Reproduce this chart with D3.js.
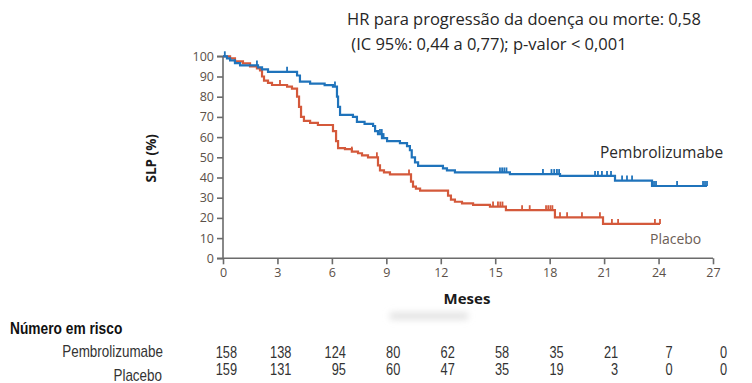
<!DOCTYPE html>
<html>
<head>
<meta charset="utf-8">
<script src="https://cdn.jsdelivr.net/npm/d3@7"></script>
<style>
  html, body { margin: 0; padding: 0; background: #fff; }
  svg { display: block; }
</style>
</head>
<body>
<svg id="chart" width="752" height="383"></svg>
<script>
// Kaplan–Meier estimates of progression-free survival (SLP, %) by month
const monthTicks = [0, 3, 6, 9, 12, 15, 18, 21, 24, 27];
const survivalTicks = [0, 10, 20, 30, 40, 50, 60, 70, 80, 90, 100];

// Pembrolizumabe: step times (months) and survival after each step
const pembroTimes = [0, 0.22, 0.39, 0.66, 0.94, 1.93, 2.15, 2.48, 4.08, 4.24, 4.8, 5.6, 6.06, 6.28, 6.34, 6.45,
  7.16, 7.38, 7.8, 8.27, 8.38, 8.54, 8.76, 9.04, 9.75, 10.14, 10.3, 10.4, 10.58, 10.75, 12.12, 12.34, 12.78,
  15.81, 18.57, 21.6, 23.64];
const pembroSurv = [100, 99, 98, 96.6, 95.5, 94.5, 93.5, 92.3, 90.5, 87.5, 86.5, 85.7, 85, 80, 75, 71,
  70, 67.5, 66.5, 65.5, 63, 61.5, 59.5, 58, 57, 55.5, 53.5, 50, 47.5, 45.8, 44.5, 43.5, 42.5,
  41.7, 40.8, 38.5, 35.8];
const pembroEnd = 26.67;
const pembroCensor = [0.1, 1.87, 3.53, 6.17, 8.65, 8.75, 8.85, 15.26, 15.38, 15.5, 15.62, 17.63, 18.1, 18.25, 18.4, 18.52,
  20.5, 20.66, 20.88, 21.16, 21.38, 21.99, 22.26, 22.54, 23.64, 23.75, 23.86, 25.02, 26.45, 26.56, 26.67];

// Placebo
const placeboTimes = [0, 0.39, 0.66, 1.1, 1.49, 1.87, 2.04, 2.15, 2.26, 2.48, 2.7, 3.53, 3.8, 4.08, 4.19, 4.3,
  4.46, 4.8, 5.23, 6.06, 6.23, 6.34, 6.72, 7.1, 7.44, 7.66, 7.99, 8.54, 8.65, 8.87, 9.2, 10.36, 10.47, 10.63,
  10.86, 12.4, 12.56, 12.78, 13.17, 13.78, 14.71, 15.59, 18.29, 20.94];
const placeboSurv = [100, 99, 97.5, 96.5, 95, 94, 93, 90, 88, 86.8, 85.8, 85, 84, 80, 75, 70,
  68, 67, 66, 63, 58, 54.5, 54, 52.8, 52, 51, 50, 46, 43.5, 42.5, 41.5, 38, 35.5, 34.5,
  33.5, 31, 29, 28, 27.2, 26.4, 25.6, 23.8, 20.3, 17];
const placeboEnd = 24.08;
const placeboCensor = [3.14, 7.1, 8.48, 10.25, 14.88, 15.15, 15.28, 15.4, 16.48, 16.9, 17.8, 17.92, 18.04, 18.15,
  18.57, 18.96, 19.78, 20.77, 21.43, 21.77, 23.8, 24.08];

// Number at risk
const riskPembro = [158, 138, 124, 80, 62, 58, 35, 21, 7, 0];
const riskPlacebo = [159, 131, 95, 60, 47, 35, 19, 3, 0, 0];

const svg = d3.select("#chart");
const x = d3.scaleLinear().domain([0, 27]).range([223, 713]);
const y = d3.scaleLinear().domain([0, 100]).range([258.3, 56.3]);

const axisColor = "#6b6b6b";
const tickText = "#5b5048";
const tickFont = "'Open Sans', sans-serif";

// Faint smudge above the risk table
const defs = svg.append("defs");
defs.append("filter").attr("id", "soft").attr("x", "-50%").attr("y", "-200%").attr("width", "200%").attr("height", "500%")
  .append("feGaussianBlur").attr("stdDeviation", 3.5);
svg.append("rect").attr("x", 390).attr("y", 313).attr("width", 78).attr("height", 6)
  .attr("fill", "#dcdcdc").attr("filter", "url(#soft)");

// Axes
const yAxis = svg.append("g").attr("transform", `translate(${x(0)},0)`)
  .call(d3.axisLeft(y).tickValues(survivalTicks).tickSize(6).tickPadding(3));
const xAxis = svg.append("g").attr("transform", `translate(0,${y(0)})`)
  .call(d3.axisBottom(x).tickValues(monthTicks).tickSize(6).tickPadding(4));
[yAxis, xAxis].forEach(g => {
  g.select(".domain").attr("stroke", axisColor).attr("stroke-width", 1.6);
  g.selectAll(".tick line").attr("stroke", axisColor).attr("stroke-width", 1.6);
  g.selectAll(".tick text").attr("fill", tickText).style("font-family", tickFont).style("font-size", "12.5px");
});
yAxis.select(".domain").attr("d", `M-6,${y(0)}H0V${y(100)}H-6`);
xAxis.select(".domain").attr("d", `M${x(0)},0H${x(27)}`);

// Axis titles
svg.append("text").attr("transform", `translate(156,${(y(0) + y(100)) / 2 + 1}) rotate(-90)`)
  .attr("text-anchor", "middle").style("font-family", "'Open Sans', sans-serif").style("font-weight", "bold")
  .style("font-size", "13.5px").attr("fill", "#1a1a1a").text("SLP (%)");
svg.append("text").attr("x", 467).attr("y", 304).attr("text-anchor", "middle")
  .style("font-family", "'Open Sans', sans-serif").style("font-weight", "bold")
  .style("font-size", "15px").attr("fill", "#1a1a1a").text("Meses");

// Curves
function survivalAt(times, surv, t) {
  const i = d3.bisectRight(times, t) - 1;
  return surv[Math.max(0, i)];
}
function drawCurve(times, surv, end, censor, color) {
  const pts = times.map((t, i) => [t, surv[i]]);
  pts.push([end, surv[surv.length - 1]]);
  const line = d3.line().x(d => x(d[0])).y(d => y(d[1])).curve(d3.curveStepAfter);
  svg.append("path").datum(pts).attr("d", line).attr("fill", "none")
    .attr("stroke", color).attr("stroke-width", 2.2).attr("stroke-linejoin", "miter");
  svg.append("g").selectAll("line").data(censor).join("line")
    .attr("x1", d => x(d)).attr("x2", d => x(d))
    .attr("y1", d => y(survivalAt(times, surv, d))).attr("y2", d => y(survivalAt(times, surv, d)) - 5)
    .attr("stroke", color).attr("stroke-width", 1.8);
}
drawCurve(placeboTimes, placeboSurv, placeboEnd, placeboCensor, "#d4593b");
drawCurve(pembroTimes, pembroSurv, pembroEnd, pembroCensor, "#1f73bb");

// Series labels
svg.append("text").attr("x", 600).attr("y", 158).style("font-family", "'Open Sans', sans-serif")
  .style("font-size", "15.5px").attr("fill", "#2a2a2a").text("Pembrolizumabe");
svg.append("text").attr("x", 650).attr("y", 244).style("font-family", "'Open Sans', sans-serif")
  .style("font-size", "14px").attr("fill", "#6b5d55").text("Placebo");

// Hazard ratio annotation
const hr = svg.append("text").style("font-family", "'Open Sans', sans-serif").style("font-size", "16.5px").attr("fill", "#262626");
hr.append("tspan").attr("x", 347).attr("y", 25).text("HR para progressão da doença ou morte: 0,58");
hr.append("tspan").attr("x", 347).attr("y", 50).text(" (IC 95%: 0,44 a 0,77); p-valor < 0,001");

// Number-at-risk table, set in a horizontally condensed face
const tableFont = "'Liberation Sans', sans-serif";
function narrowText(tx, ty, str, size, anchor, weight, fill, squeeze) {
  svg.append("text").attr("transform", `translate(${tx},${ty}) scale(${squeeze},1)`)
    .attr("text-anchor", anchor).style("font-family", tableFont).style("font-weight", weight)
    .style("font-size", size + "px").attr("fill", fill).text(str);
}
narrowText(10, 334, "Número em risco", 16, "start", "bold", "#111", 0.86);
narrowText(163, 357, "Pembrolizumabe", 16, "end", "normal", "#333", 0.84);
narrowText(162, 381, "Placebo", 16, "end", "normal", "#333", 0.84);
[[riskPembro, 358], [riskPlacebo, 375]].forEach(([vals, yy]) => {
  vals.forEach((d, i) => narrowText(x(monthTicks[i]) + 14, yy, String(d), 16, "end", "normal", "#333", 0.8));
});
</script>
</body>
</html>
